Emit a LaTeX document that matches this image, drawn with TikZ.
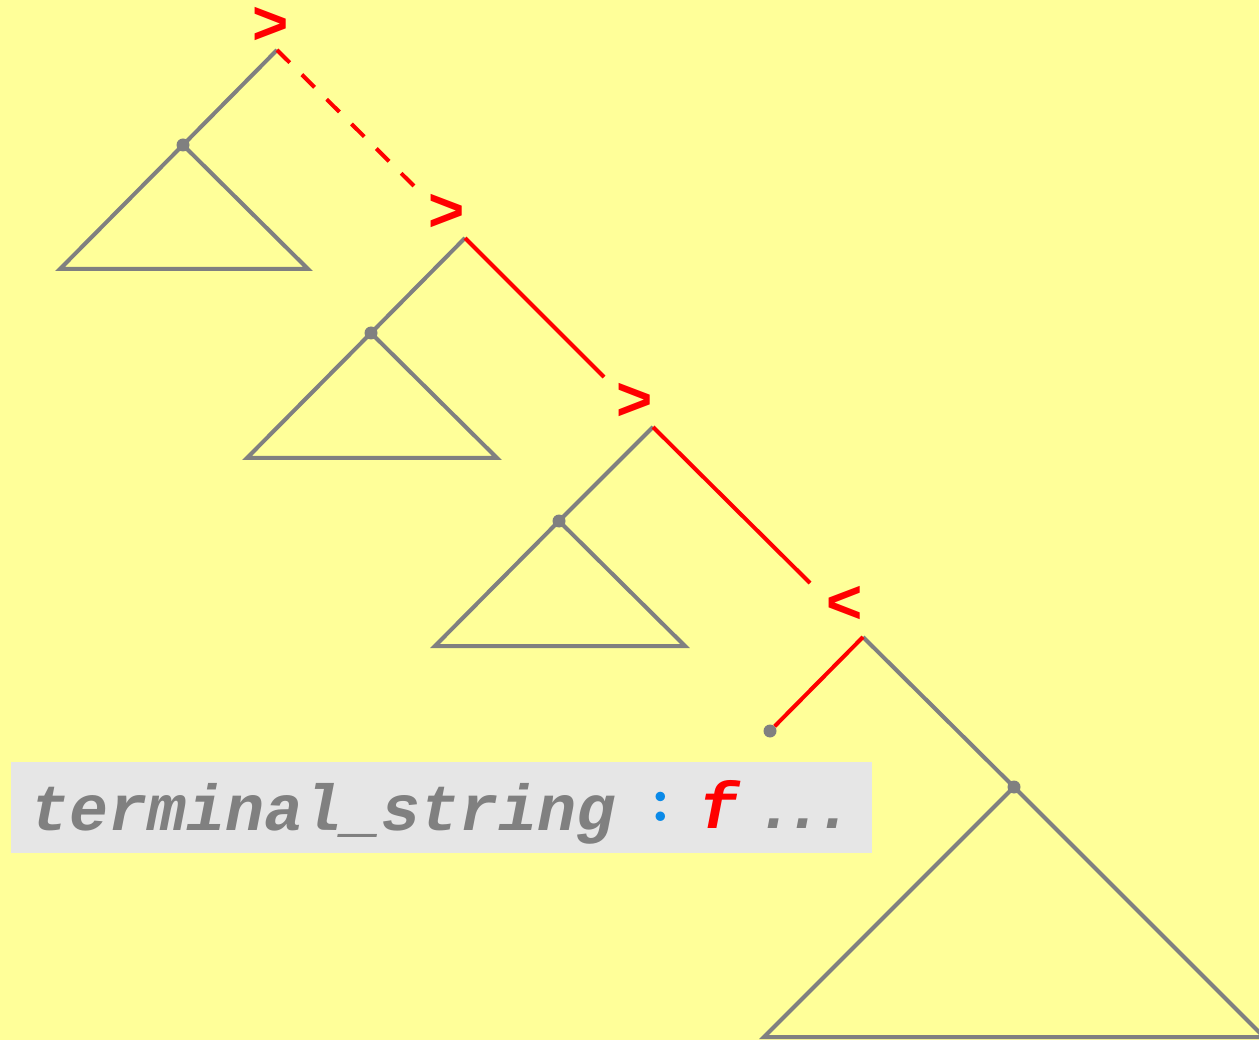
\documentclass[tikz,border=0pt]{standalone}
\usepackage{fontspec}
\newfontfamily\sansfont{Liberation Sans}
\newfontfamily\codefont{Liberation Mono}
\definecolor{bgyellow}{HTML}{FFFF99}
\definecolor{tgray}{HTML}{808080}
\definecolor{boxgray}{HTML}{E6E6E6}
\definecolor{tblue}{HTML}{0A8AE8}
\definecolor{tred}{HTML}{FF0000}
\begin{document}
\begin{tikzpicture}[x=1pt,y=-1pt,
  tree/.style={draw=tgray,line width=4pt},
  redline/.style={draw=tred,line width=4pt},
  reddash/.style={draw=tred,line width=4pt,dash pattern=on 18pt off 17pt},
  dotpt/.style={circle,fill=tgray,inner sep=0pt,minimum size=13pt},
  cmp/.style={text=tred,font=\sansfont\bfseries\fontsize{62}{62}\selectfont,inner sep=0pt},
  code/.style={anchor=base west,inner sep=0pt,font=\codefont\bfseries\itshape\fontsize{65}{65}\selectfont}]
\fill[bgyellow] (0,0) rectangle (1259,1040);
\useasboundingbox (0,0) rectangle (1259,1040);
% tree nodes
\coordinate (A) at (277,50);
\coordinate (B) at (465,238);
\coordinate (C) at (653,427);
\coordinate (D) at (863,637);
\node[dotpt] (a) at (183,145) {};
\node[dotpt] (b) at (371,333) {};
\node[dotpt] (c) at (559,521) {};
\node[dotpt] (d) at (1014,787) {};
\node[dotpt] (e) at (770,731) {};
% comparison labels
\node[cmp] (la) at (271,26) {>};
\node[cmp] (lb) at (447,213) {>};
\node[cmp] (lc) at (635,402) {>};
\node[cmp] (ld) at (845,605) {<};
\coordinate (ea) at (417,189);
\coordinate (eb) at (604,377);
\coordinate (ec) at (810,583);
% subtrees
\draw[tree] (A) -- (a.center);
\draw[tree,line join=miter] (60,269) -- (a.center) -- (308,269) -- cycle;
\draw[tree] (B) -- (b.center);
\draw[tree,line join=miter] (247,458) -- (b.center) -- (497,458) -- cycle;
\draw[tree] (C) -- (c.center);
\draw[tree,line join=miter] (435,646) -- (c.center) -- (685,646) -- cycle;
\draw[tree] (D) -- (d.center);
\draw[tree,line join=miter] (764,1037) -- (d.center) -- (1264,1037) -- cycle;
% red spine
\draw[reddash] (A) -- (ea);
\draw[redline] (B) -- (eb);
\draw[redline] (C) -- (ec);
\draw[redline] (D) -- (e);
% text box
\fill[boxgray] (11,762) rectangle (872,853);
\node[code,text=tgray] (txt) at (30,830) {terminal\_string};
\node[anchor=base,inner sep=0pt,text=tblue,font=\bfseries\fontsize{66}{66}\selectfont] (colon) at (661,821) {:};
\node[code,text=tred] (fn) at (699,828) {f};
\node[code,text=tgray] (dots) at (756,828) {.\hspace{-9.4pt}.\hspace{-9.4pt}.};
\end{tikzpicture}
\end{document}
